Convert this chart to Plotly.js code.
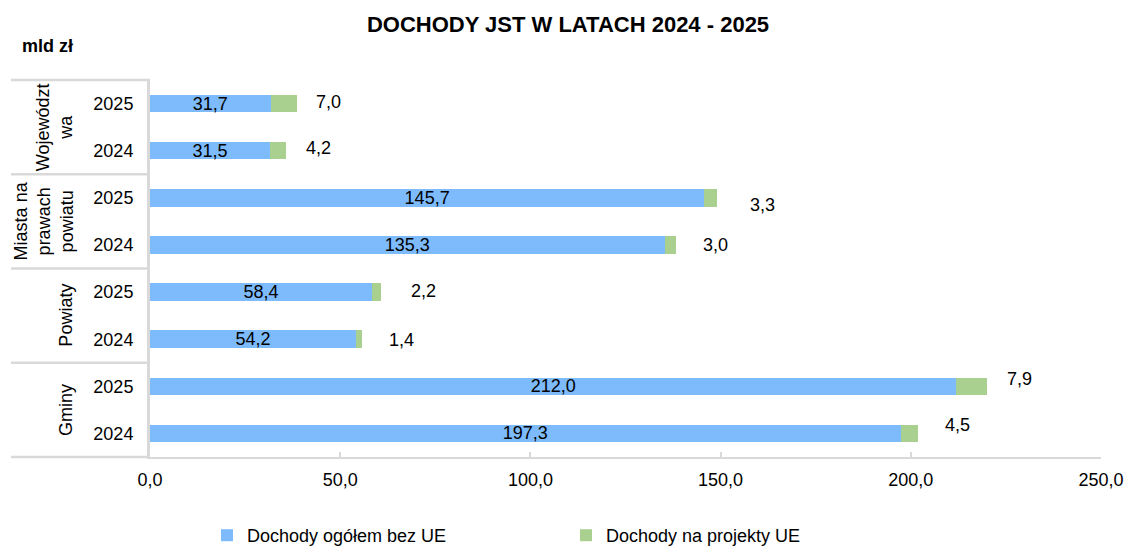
<!DOCTYPE html>
<html>
<head>
<meta charset="utf-8">
<script src="https://cdn.plot.ly/plotly-3.0.1.min.js"></script>
<style>html,body{margin:0;padding:0;background:#fff;}#chart{width:1129px;height:554px;}</style>
</head>
<body>
<div id="chart"></div>
<script>
// ---- data ----
const groupLabels = ['Województ<br>wa', 'Miasta na<br>prawach<br>powiatu', 'Powiaty', 'Gminy'];
const rowGroups = [0, 0, 1, 1, 2, 2, 3, 3];
const years = ['2025', '2024', '2025', '2024', '2025', '2024', '2025', '2024'];
const incomeNoEU = [31.7, 31.5, 145.7, 135.3, 58.4, 54.2, 212.0, 197.3];
const incomeEU = [7.0, 4.2, 3.3, 3.0, 2.2, 1.4, 7.9, 4.5];
const seriesNames = ['Dochody ogółem bez UE', 'Dochody na projekty UE'];
const xTicks = [0, 50, 100, 150, 200, 250];

// ---- style (label offsets in px, not data) ----
const euLabelShiftX = [31, 33, 46, 39, 43, 40, 33, 40];
const euLabelShiftY = [2, 3, -7, 0, 1, -1, 7, 8];
const groupLabelPx = [54, 44, 66, 66];

const FONT = 'Liberation Sans, Arial, sans-serif';
const cats = years.map((y, i) => rowGroups[i] + '|' + y);
const L = 150, R = 1101, T = 80, B = 457;
const pxToPaperX = px => (px - L) / (R - L);
const pxToPaperY = py => (B - py) / (B - T);

const traces = [
  {
    type: 'bar', orientation: 'h', name: seriesNames[0],
    y: cats, x: incomeNoEU, width: 0.37,
    marker: {color: '#7dbbfc', line: {width: 0}},
    text: incomeNoEU.map(v => v.toFixed(1).replace('.', ',')),
    textposition: 'inside', insidetextanchor: 'middle',
    textfont: {family: FONT, size: 18, color: '#000'},
    constraintext: 'none', hoverinfo: 'skip'
  },
  {
    type: 'bar', orientation: 'h', name: seriesNames[1],
    y: cats, x: incomeEU, width: 0.37,
    marker: {color: '#a9d08e', line: {width: 0}},
    hoverinfo: 'skip'
  }
];

const annotations = [];
incomeEU.forEach((v, i) => {
  annotations.push({
    xref: 'x', yref: 'y', x: incomeNoEU[i] + v, y: i,
    text: v.toFixed(1).replace('.', ','), showarrow: false,
    xanchor: 'center', yanchor: 'middle',
    xshift: euLabelShiftX[i], yshift: euLabelShiftY[i],
    font: {family: FONT, size: 18, color: '#000'}
  });
});
groupLabels.forEach((g, k) => {
  annotations.push({
    xref: 'paper', yref: 'y', x: pxToPaperX(groupLabelPx[k]), y: 2 * k + 0.5,
    text: g, showarrow: false, textangle: -90, align: 'center',
    xanchor: 'center', yanchor: 'middle',
    font: {family: FONT, size: 18, color: '#000'}
  });
});
annotations.push({
  xref: 'paper', yref: 'paper', x: pxToPaperX(20), y: pxToPaperY(46),
  xanchor: 'left', yanchor: 'middle', showarrow: false,
  text: '<b>mld zł</b>', font: {family: FONT, size: 18, color: '#000'}
});

const shapes = [];
[0, 0.25, 0.5, 0.75, 1].forEach(p => {
  shapes.push({
    type: 'line', xref: 'paper', yref: 'paper',
    x0: pxToPaperX(11), x1: 0, y0: p, y1: p,
    line: {color: '#d9d9d9', width: 2.5}
  });
});

const layout = {
  width: 1129, height: 554,
  margin: {l: L, r: 1129 - R, t: T, b: 554 - B},
  paper_bgcolor: '#fff', plot_bgcolor: '#fff',
  separators: ', ',
  barmode: 'stack',
  showlegend: true,
  title: {
    text: '<b>DOCHODY JST W LATACH 2024 - 2025</b>',
    xref: 'container', yref: 'container', x: 568 / 1129, y: 1 - 24 / 554,
    xanchor: 'center', yanchor: 'middle',
    font: {family: FONT, size: 22, color: '#000'}
  },
  xaxis: {
    range: [0, 250], tickvals: xTicks, tickformat: '.1f',
    showgrid: false, zeroline: false,
    showline: true, linecolor: '#d9d9d9', linewidth: 2,
    ticks: 'inside', ticklen: 5, tickcolor: '#d9d9d9', tickwidth: 2,
    ticklabelstandoff: 5,
    tickfont: {family: FONT, size: 18, color: '#000'}
  },
  yaxis: {
    type: 'category', categoryorder: 'array', categoryarray: cats,
    range: [7.5, -0.5],
    tickvals: cats, ticktext: years,
    showgrid: false, zeroline: false,
    showline: true, linecolor: '#d9d9d9', linewidth: 3,
    ticks: '', ticklabelstandoff: 10,
    tickfont: {family: FONT, size: 18, color: '#000'}
  },
  legend: {
    orientation: 'h', xref: 'container', yref: 'container',
    x: 207 / 1129, y: -0.008, xanchor: 'left', yanchor: 'bottom',
    entrywidth: 314, entrywidthmode: 'pixels',
    font: {family: FONT, size: 18, color: '#000'},
    traceorder: 'normal'
  },
  annotations: annotations,
  shapes: shapes
};

Plotly.newPlot('chart', traces, layout, {displayModeBar: false, staticPlot: true});
</script>
</body>
</html>
